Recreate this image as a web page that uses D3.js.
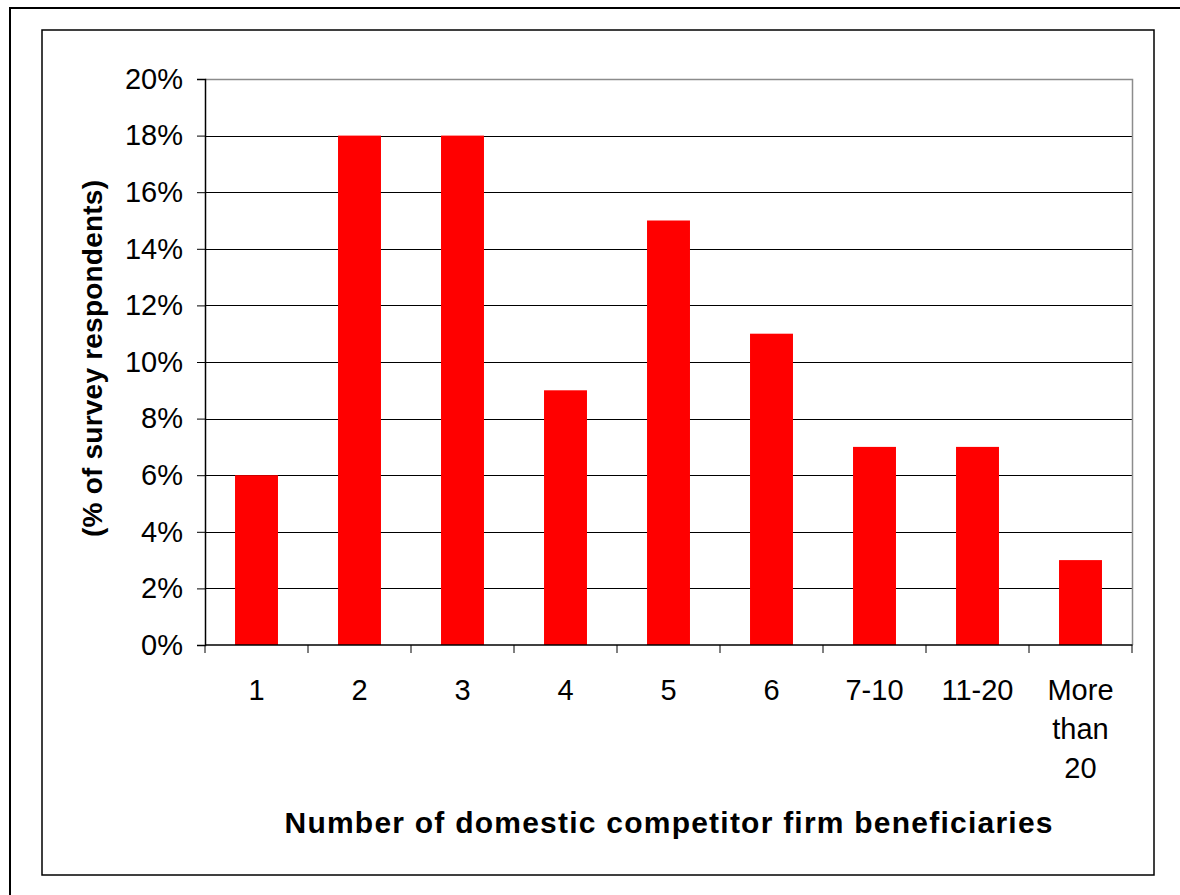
<!DOCTYPE html>
<html>
<head>
<meta charset="utf-8">
<script src="https://cdn.jsdelivr.net/npm/d3@7"></script>
<style>
  html, body { margin: 0; padding: 0; background: #ffffff; }
  svg { display: block; font-family: "Liberation Sans", Arial, sans-serif; }
</style>
</head>
<body>
<svg id="chart" width="1180" height="895"></svg>
<script>
// Share of survey respondents by number of domestic competitor firm beneficiaries
const categories = ["1", "2", "3", "4", "5", "6", "7-10", "11-20", "More than 20"];
const shares = [0.06, 0.18, 0.18, 0.09, 0.15, 0.11, 0.07, 0.07, 0.03];
const yTicks = [0, 0.02, 0.04, 0.06, 0.08, 0.10, 0.12, 0.14, 0.16, 0.18, 0.20];
const xTitle = "Number of domestic competitor firm beneficiaries";
const yTitle = "(% of survey respondents)";

const svg = d3.select("#chart");

// Outer frame and chart-area frame
svg.append("rect").attr("x", 10).attr("y", 8).attr("width", 1200).attr("height", 1000)
  .attr("fill", "none").attr("stroke", "#000").attr("stroke-width", 2);
svg.append("rect").attr("x", 42).attr("y", 30).attr("width", 1112).attr("height", 845)
  .attr("fill", "#fff").attr("stroke", "#000").attr("stroke-width", 1.5);

const plot = { left: 205, right: 1132, top: 79, bottom: 645 };

const x = d3.scaleBand().domain(categories).range([plot.left, plot.right])
  .paddingInner(0.583).paddingOuter(0.2915);
const xOuter = d3.scaleBand().domain(categories).range([plot.left, plot.right]);
const y = d3.scaleLinear().domain([0, 0.20]).range([plot.bottom, plot.top]);

// Gridlines
svg.append("g").selectAll("line").data(yTicks.filter(t => t > 0 && t < 0.2)).join("line")
  .attr("x1", plot.left).attr("x2", plot.right)
  .attr("y1", d => Math.round(y(d)) + 0.5).attr("y2", d => Math.round(y(d)) + 0.5)
  .attr("stroke", "#000").attr("stroke-width", 1);

// Plot border (top and right in grey)
svg.append("path")
  .attr("d", `M${plot.left},${plot.top + 0.5}H${plot.right + 0.5}V${plot.bottom}`)
  .attr("fill", "none").attr("stroke", "#8c8c8c").attr("stroke-width", 1.5);

// Bars
svg.append("g").selectAll("rect").data(shares).join("rect")
  .attr("x", (d, i) => x(categories[i]))
  .attr("width", x.bandwidth())
  .attr("y", d => y(d))
  .attr("height", d => y(0) - y(d))
  .attr("fill", "#ff0000");

// Y axis
const yAxis = d3.axisLeft(y).tickValues(yTicks).tickFormat(d3.format(".0%"))
  .tickSize(8).tickPadding(14);
const gy = svg.append("g").attr("transform", `translate(${plot.left},0)`).call(yAxis);
gy.select(".domain").attr("stroke", "#000").attr("stroke-width", 1.5);
gy.selectAll(".tick line").attr("stroke", "#000");
gy.selectAll(".tick text").attr("font-size", 29).attr("fill", "#000")
  .attr("font-family", "Liberation Sans, Arial, sans-serif");

// X axis: tick marks at category boundaries
const gx = svg.append("g").attr("transform", `translate(0,${plot.bottom})`);
gx.append("line").attr("x1", plot.left).attr("x2", plot.right + 0.5)
  .attr("stroke", "#000").attr("stroke-width", 1.5);
const boundaries = categories.map(c => xOuter(c)).concat([plot.right]);
gx.selectAll("line.tk").data(boundaries).join("line").attr("class", "tk")
  .attr("x1", d => d).attr("x2", d => d).attr("y1", 0).attr("y2", 8)
  .attr("stroke", "#000").attr("stroke-width", 1);

// X category labels (wrapped where needed)
const wrap = { "More than 20": ["More", "than", "20"] };
const lbl = svg.append("g").attr("font-size", 29).attr("fill", "#000").attr("text-anchor", "middle");
categories.forEach(c => {
  const lines = wrap[c] || [c];
  const cx = xOuter(c) + xOuter.bandwidth() / 2;
  const t = lbl.append("text").attr("x", cx).attr("y", 700);
  lines.forEach((ln, k) => {
    t.append("tspan").attr("x", cx).attr("dy", k === 0 ? 0 : 39).text(ln);
  });
});

// Axis titles
svg.append("text").attr("x", (plot.left + plot.right) / 2).attr("y", 833)
  .attr("text-anchor", "middle").attr("font-size", 30).attr("font-weight", "bold")
  .attr("textLength", 768).attr("lengthAdjust", "spacing")
  .text(xTitle);

svg.append("text")
  .attr("transform", `translate(102,358.5) rotate(-90)`)
  .attr("text-anchor", "middle").attr("font-size", 28).attr("font-weight", "bold")
  .attr("textLength", 357).attr("lengthAdjust", "spacing")
  .text(yTitle);
</script>
</body>
</html>
